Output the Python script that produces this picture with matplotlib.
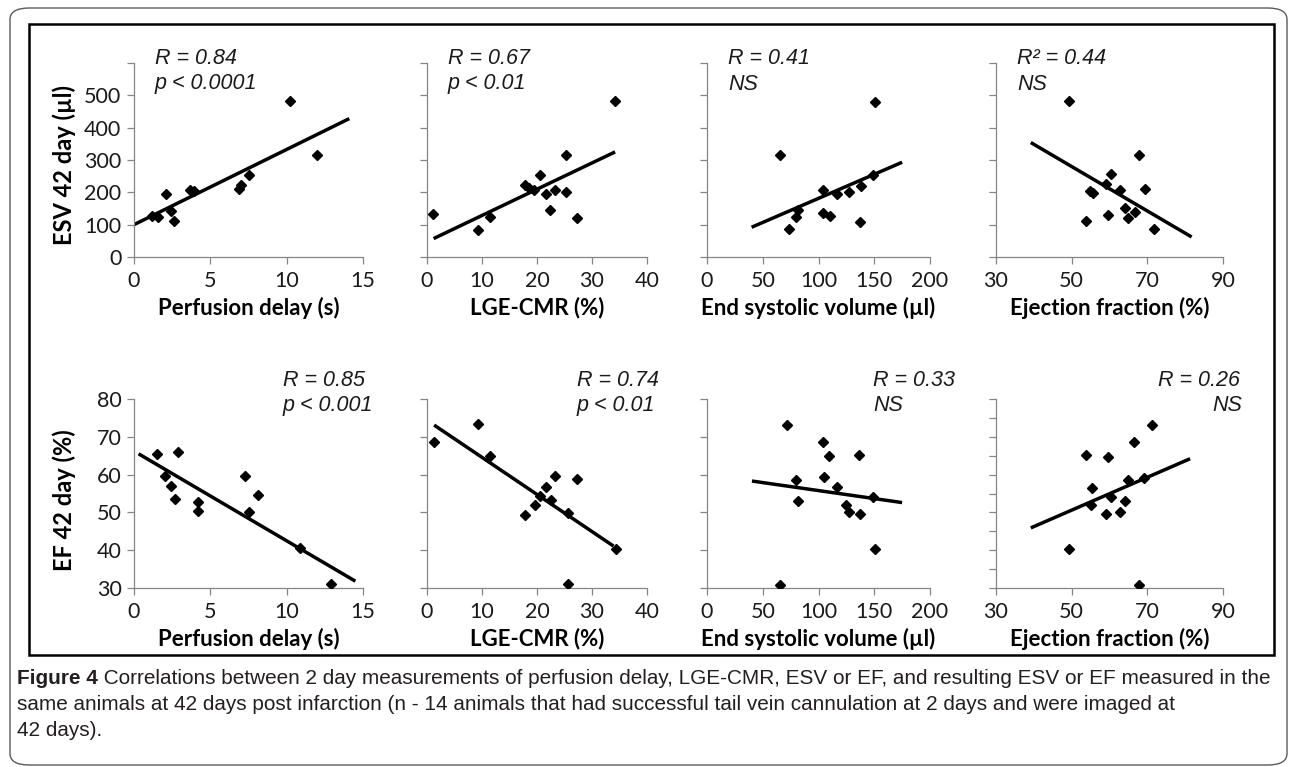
import matplotlib
matplotlib.use("Agg")
import matplotlib.pyplot as plt
from matplotlib.patches import FancyBboxPatch, Rectangle

plt.rcParams['font.family'] = ['Lato', 'DejaVu Sans']

W, H = 1290, 767

# ---- data (2 day value -> 42 day value) ----
# top row: ESV at 42 days
delay_a = [1.2, 1.6, 2.1, 2.4, 2.6, 3.7, 3.9, 6.9, 7.0, 7.5, 10.2, 12.0]
esv_a = [128, 124, 196, 143, 110, 206, 204, 209, 222, 255, 482, 314]
lge_a = [1.1, 9.2, 11.4, 17.9, 18.6, 19.4, 20.5, 21.6, 22.4, 23.2, 25.3, 25.3, 27.2, 34.2]
esv_b = [133, 85, 125, 223, 214, 206, 255, 195, 144, 206, 315, 202, 121, 482]
esv2_a = [65.7, 73.1, 80, 82, 104, 104, 110, 117, 127, 137, 138, 149, 151]
esv_c = [314, 86, 124, 145, 208, 137, 126, 195, 202, 107, 219, 255, 479]
ef2_a = [49.2, 53.8, 54.8, 55.7, 59.1, 59.7, 60.3, 62.8, 64.1, 64.8, 66.8, 67.9, 69.5, 71.8]
esv_d = [481, 110, 203, 199, 227, 129, 258, 206, 152, 121, 139, 316, 209, 88]

# bottom row: EF at 42 days
delay_b = [1.5, 2.0, 2.4, 2.7, 2.9, 4.2, 4.2, 7.3, 7.5, 8.1, 10.9, 12.9]
ef_a = [65.5, 59.5, 57.1, 53.6, 66.0, 52.7, 50.5, 59.7, 50.0, 54.5, 40.6, 31.1]
lge_b = [1.2, 9.3, 11.5, 17.9, 19.7, 20.6, 21.7, 22.5, 23.3, 25.6, 25.6, 27.2, 34.4]
ef_b = [68.7, 73.5, 64.8, 49.4, 51.9, 54.3, 56.7, 53.2, 59.5, 49.9, 31.0, 58.8, 40.4]
esv2_b = [71.6, 65.7, 80, 81.2, 104, 105, 109, 117, 125, 127, 136, 137, 149, 151]
ef_c = [73.1, 30.9, 58.6, 52.9, 68.5, 59.3, 64.8, 56.6, 52.0, 50.0, 65.2, 49.6, 54.0, 40.3]
ef2_b = [49.3, 53.9, 55.0, 55.4, 59.0, 59.5, 60.4, 62.7, 64.1, 64.8, 66.5, 67.9, 69.0, 71.3]
ef_d = [40.4, 65.3, 51.9, 56.4, 49.7, 64.7, 54.1, 50.2, 53.0, 58.6, 68.6, 30.9, 59.0, 73.2]

# linear trend lines (end points)
trend_x = [[0, 14.1], [1.2, 34.2], [40, 175], [39.2, 81.7],
           [0.3, 14.5], [1.3, 33.9], [40.3, 175], [39.2, 81.3]]
trend_y = [[100, 428], [57, 325], [92, 293], [354, 62],
           [65.5, 31.8], [73.1, 41.1], [58.3, 52.6], [45.9, 64.2]]

stats = [["R = 0.84", "p < 0.0001"], ["R = 0.67", "p < 0.01"], ["R = 0.41", "NS"], ["R\u00b2 = 0.44", "NS"],
         ["R = 0.85", "p < 0.001"], ["R = 0.74", "p < 0.01"], ["R = 0.33", "NS"], ["R = 0.26", "NS"]]

x_labels = ["Perfusion delay (s)", "LGE-CMR (%)", "End systolic volume (\u00b5l)", "Ejection fraction (%)"]
x_ticks = [[0, 5, 10, 15], [0, 10, 20, 30, 40], [0, 50, 100, 150, 200], [30, 50, 70, 90]]
esv_ticks = [0, 100, 200, 300, 400, 500, 600]
ef_ticks = [30, 40, 50, 60, 70, 80]
ef_ticks_fine = [30, 35, 40, 45, 50, 55, 60, 65, 70, 75, 80]

top_x = [delay_a, lge_a, esv2_a, ef2_a]
top_y = [esv_a, esv_b, esv_c, esv_d]
bot_x = [delay_b, lge_b, esv2_b, ef2_b]
bot_y = [ef_a, ef_b, ef_c, ef_d]

caption_bold = "Figure 4"
caption_lines = [
    "Correlations between 2 day measurements of perfusion delay, LGE-CMR, ESV or EF, and resulting ESV or EF measured in the",
    "same animals at 42 days post infarction (n - 14 animals that had successful tail vein cannulation at 2 days and were imaged at",
    "42 days).",
]

# ---- layout (pixels) ----
cols = [(134, 363), (427, 647), (707, 930), (996, 1223)]
rows = [(63, 257), (399, 588)]


def fx(x):
    return x / W


def fy(y):
    return 1 - y / H


fig = plt.figure(figsize=(W / 100, H / 100), dpi=100)

# outer rounded frame and inner black frame
fig.patches.append(FancyBboxPatch((fx(10), fy(765)), fx(1277), 757 / H,
                                  boxstyle="round,pad=0,rounding_size=0.015",
                                  transform=fig.transFigure, fill=False,
                                  edgecolor='#5a5a5a', linewidth=1.0))
fig.patches.append(Rectangle((fx(29), fy(655)), fx(1245), 631 / H, transform=fig.transFigure,
                             fill=False, edgecolor='black', linewidth=1.8))

ann_font = dict(family=['Liberation Sans', 'DejaVu Sans'], style='italic', fontsize=15.5, color='#1a1a1a')

for r in range(2):
    ytop, ybot = rows[r]
    for c in range(4):
        x0, x1 = cols[c]
        ax = fig.add_axes([fx(x0), fy(ybot), (x1 - x0) / W, (ybot - ytop) / H])
        i = r * 4 + c
        xs = top_x[c] if r == 0 else bot_x[c]
        ys = top_y[c] if r == 0 else bot_y[c]
        ax.plot(trend_x[i], trend_y[i], color='black', linewidth=2.5, solid_capstyle='butt', zorder=2)
        ax.plot(xs, ys, linestyle='none', marker='D', markersize=5.6, color='black', zorder=3)

        ax.set_xlim(x_ticks[c][0], x_ticks[c][-1])
        ax.set_xticks(x_ticks[c])
        if r == 0:
            ax.set_ylim(0, 600)
            ax.set_yticks(esv_ticks)
            labels = [str(t) for t in esv_ticks[:-1]] + ['']
        else:
            ax.set_ylim(30, 80)
            ticks = ef_ticks_fine if c == 3 else ef_ticks
            ax.set_yticks(ticks)
            labels = [str(t) for t in ticks]
        if c == 0:
            ax.set_yticklabels(labels)
        else:
            ax.set_yticklabels([])

        for s in ['top', 'right']:
            ax.spines[s].set_visible(False)
        for s in ['left', 'bottom']:
            ax.spines[s].set_color('#868686')
            ax.spines[s].set_linewidth(0.9)
        ax.tick_params(direction='out', length=5, width=0.9, color='#868686',
                       labelsize=15.5, labelcolor='#1a1a1a', pad=4)
        ax.tick_params(axis='x', pad=5)
        ax.patch.set_alpha(0)
        ax.set_xlabel(x_labels[c], fontsize=16, fontweight='bold', labelpad=4, color='black')

        # statistics text
        l1, l2 = stats[i]
        if r == 0:
            tx = x0 + 21
            fig.text(fx(tx), fy(58), l1, ha='left', va='center', **ann_font)
            fig.text(fx(tx), fy(84), l2, ha='left', va='center', **ann_font)
        else:
            if c < 3:
                tx = [283, 577, 873][c]
                fig.text(fx(tx), fy(380), l1, ha='left', va='center', **ann_font)
                fig.text(fx(tx), fy(406), l2, ha='left', va='center', **ann_font)
            else:
                fig.text(fx(1158), fy(380), l1, ha='left', va='center', **ann_font)
                fig.text(fx(1242), fy(406), l2, ha='right', va='center', **ann_font)

fig.text(fx(64), fy(165), "ESV 42 day (\u00b5l)", rotation=90, ha='center', va='center',
         fontsize=17, fontweight='bold')
fig.text(fx(64), fy(500), "EF 42 day (%)", rotation=90, ha='center', va='center',
         fontsize=17, fontweight='bold')

# caption: size chosen so the first line spans the frame width like the original
cap_family = ['Liberation Sans Narrow', 'Liberation Sans', 'DejaVu Sans']
renderer = fig.canvas.get_renderer()
probe_b = fig.text(0, 0, caption_bold, fontsize=10, fontweight='bold', family=cap_family)
probe_r = fig.text(0, 0, " " + caption_lines[0], fontsize=10, family=cap_family)
w10 = probe_b.get_window_extent(renderer).width + probe_r.get_window_extent(renderer).width
probe_b.remove()
probe_r.remove()
cap_size = 10 * (1275 - 17) / w10

cap_y = [678, 704, 730]
bold = fig.text(fx(17), fy(cap_y[0]), caption_bold, ha='left', va='center', fontsize=cap_size,
                fontweight='bold', family=cap_family, color='#231f20')
bb = bold.get_window_extent(renderer)
fig.text(bb.x1 / W, fy(cap_y[0]), " " + caption_lines[0], ha='left', va='center',
         fontsize=cap_size, family=cap_family, color='#231f20')
for k in (1, 2):
    fig.text(fx(17), fy(cap_y[k]), caption_lines[k], ha='left', va='center',
             fontsize=cap_size, family=cap_family, color='#231f20')

fig.savefig("out.png", dpi=100)
